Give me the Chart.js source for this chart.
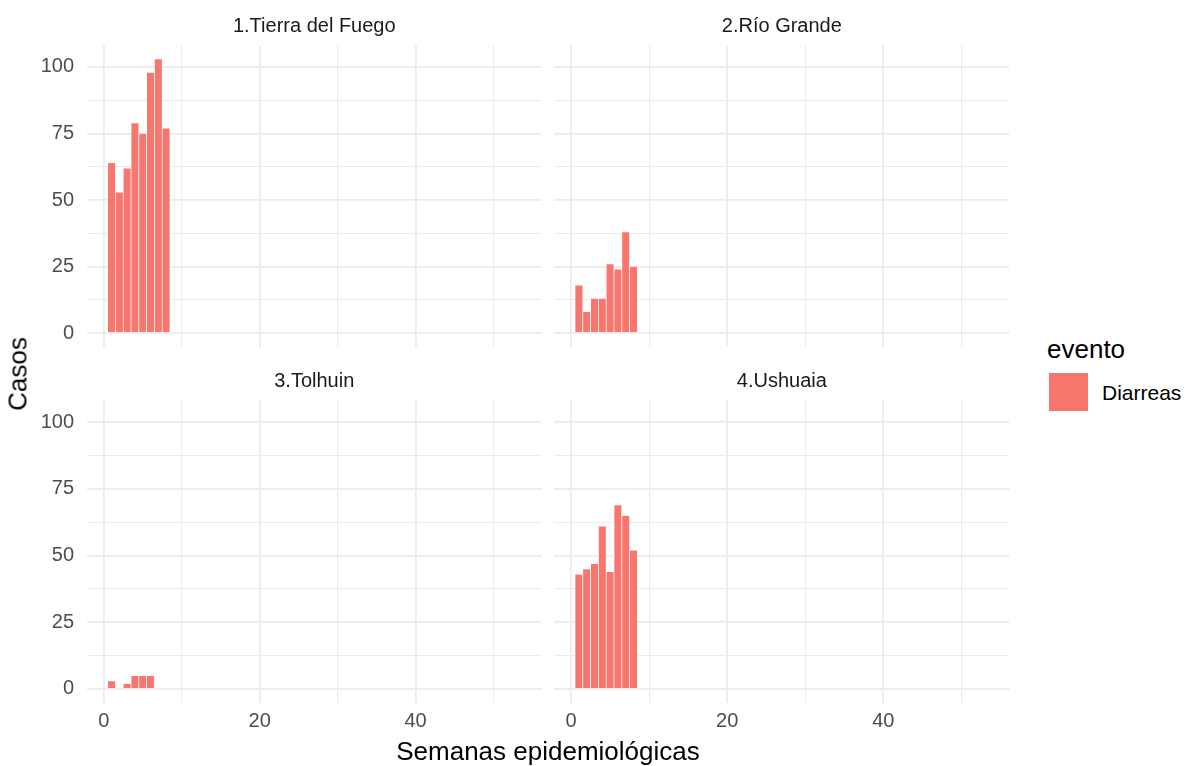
<!DOCTYPE html>
<html>
<head>
<meta charset="utf-8">
<script src="https://cdn.jsdelivr.net/npm/chart.js@4"></script>
<style>
  body { margin: 0; background: #fff; width: 1185px; height: 766px; overflow: hidden; position: relative; font-family: 'Liberation Sans', Arial, sans-serif; }
  canvas { position: absolute; }
  .txt { position: absolute; white-space: nowrap; color: #000; }
</style>
</head>
<body>
<canvas id="p1" width="545" height="350" style="left:0;top:0"></canvas>
<canvas id="p2" width="470" height="350" style="left:545px;top:0"></canvas>
<canvas id="p3" width="545" height="411" style="left:0;top:355px"></canvas>
<canvas id="p4" width="470" height="411" style="left:545px;top:355px"></canvas>

<div class="txt" id="ytitle" style="font-size:26px;left:18px;top:373.5px;transform:translate(-50%,-50%) rotate(-90deg)">Casos</div>
<div class="txt" id="xtitle" style="font-size:26px;left:548px;top:751px;transform:translate(-50%,-50%)">Semanas epidemiológicas</div>
<div class="txt" id="legtitle" style="font-size:26px;left:1047px;top:349px;transform:translateY(-50%)">evento</div>
<div id="legkey" style="position:absolute;left:1049px;top:373px;width:39px;height:38px;background:#F8766D"></div>
<div class="txt" id="leglabel" style="font-size:21px;left:1102px;top:393px;transform:translateY(-50%)">Diarreas</div>

<script>
// Semanas y casos de diarreas por departamento
const semanas = [1, 2, 3, 4, 5, 6, 7, 8];
const tierraDelFuego = [64, 53, 62, 79, 75, 98, 103, 77];
const rioGrande = [18, 8, 13, 13, 26, 24, 38, 25];
const tolhuin = [3, 0, 2, 5, 5, 5, 0, 0];
const ushuaia = [43, 45, 47, 61, 44, 69, 65, 52];
const titulos = ['1.Tierra del Fuego', '2.Río Grande', '3.Tolhuin', '4.Ushuaia'];

// ticks (mayores con etiqueta, menores solo grilla)
const xTicks = [0, 10, 20, 30, 40, 50];
const xLabels = [0, 20, 40];
const yTicks = [0, 12.5, 25, 37.5, 50, 62.5, 75, 87.5, 100];
const yLabels = [0, 25, 50, 75, 100];

const FONT = "'Liberation Sans', Arial, sans-serif";
const GRID = '#ebebeb';

function panel(id, titulo, valores, showY, showX, padding) {
    const ctx = document.getElementById(id);
    new Chart(ctx, {
        type: 'bar',
        data: {
            datasets: [{
                label: 'Diarreas',
                data: semanas.map((s, i) => ({ x: s, y: valores[i] })),
                backgroundColor: '#F8766D',
                borderColor: '#ffffff',
                borderWidth: 0.7,
                barPercentage: 1,
                categoryPercentage: 1
            }]
        },
        options: {
            responsive: false,
            animation: false,
            devicePixelRatio: 1,
            layout: { padding: padding, autoPadding: false },
            plugins: {
                legend: { display: false },
                tooltip: { enabled: false },
                title: {
                    display: true,
                    fullSize: false, // centrado sobre el panel
                    text: titulo,
                    color: '#1a1a1a',
                    font: { family: FONT, size: 20, weight: 'normal', lineHeight: 1 },
                    padding: { top: 16.5, bottom: 8.8 }
                }
            },
            scales: {
                x: {
                    type: 'linear',
                    min: -2.15,
                    max: 56.15,
                    offset: false,
                    border: { display: false },
                    grid: {
                        offset: false,
                        drawTicks: false,
                        color: GRID,
                        lineWidth: c => xLabels.includes(c.tick.value) ? 1.8 : 1
                    },
                    afterBuildTicks: axis => { axis.ticks = xTicks.map(v => ({ value: v })); },
                    afterFit: axis => {
                        axis.height = showX ? 30 : 0;
                        axis.paddingLeft = 0;
                        axis.paddingRight = 0;
                    },
                    ticks: {
                        display: showX,
                        autoSkip: false,
                        maxRotation: 0,
                        padding: 7,
                        color: '#4d4d4d',
                        font: { family: FONT, size: 20 },
                        callback: v => xLabels.includes(v) ? String(v) : ''
                    }
                },
                y: {
                    min: -5.15,
                    max: 108.15,
                    border: { display: false },
                    grid: {
                        drawTicks: false,
                        color: GRID,
                        lineWidth: c => yLabels.includes(c.tick.value) ? 1.8 : 1
                    },
                    afterBuildTicks: axis => { axis.ticks = yTicks.map(v => ({ value: v })); },
                    afterFit: axis => {
                        axis.width = showY ? 87 : 0;
                        axis.paddingTop = 0;
                        axis.paddingBottom = 0;
                    },
                    ticks: {
                        display: showY,
                        autoSkip: false,
                        padding: 13,
                        color: '#4d4d4d',
                        font: { family: FONT, size: 20 },
                        callback: v => yLabels.includes(v) ? String(v) : ''
                    }
                }
            }
        }
    });
}

panel('p1', titulos[0], tierraDelFuego, true, false, { left: 0, right: 3.5, top: 0, bottom: 3.3 });
panel('p2', titulos[1], rioGrande, false, false, { left: 9.3, right: 5.7, top: 0, bottom: 3.3 });
panel('p3', titulos[2], tolhuin, true, true, { left: 0, right: 3.5, top: 0, bottom: 33.3 });
panel('p4', titulos[3], ushuaia, false, true, { left: 9.3, right: 5.7, top: 0, bottom: 33.3 });
</script>
</body>
</html>
